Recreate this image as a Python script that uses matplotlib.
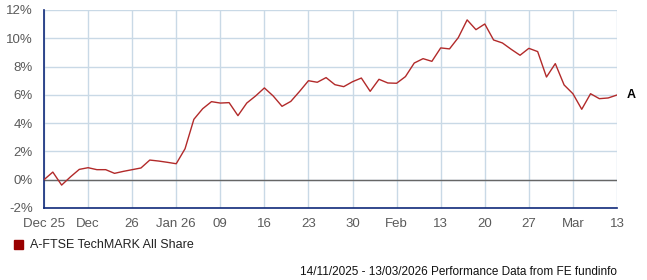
import numpy as np
import matplotlib
matplotlib.use("Agg")
import matplotlib.pyplot as plt
from matplotlib.patches import Rectangle

plt.rcParams['font.family'] = ['Liberation Sans', 'DejaVu Sans']

# daily performance (%), one point per trading day
perf = [0.00, 0.54, -0.38, 0.20, 0.73, 0.85, 0.71, 0.71, 0.45, 0.59,
        0.71, 0.83, 1.39, 1.32, 1.23, 1.13, 2.19, 4.27, 5.02, 5.52,
        5.42, 5.45, 4.53, 5.42, 5.92, 6.49, 5.92, 5.19, 5.54, 6.25,
        7.00, 6.89, 7.22, 6.72, 6.58, 6.93, 7.19, 6.25, 7.10, 6.84,
        6.82, 7.29, 8.25, 8.56, 8.37, 9.32, 9.25, 10.05, 11.30, 10.61,
        11.01, 9.88, 9.67, 9.22, 8.80, 9.29, 9.06, 7.26, 8.21, 6.70,
        6.08, 4.98, 6.08, 5.73, 5.78, 5.99]
xlabels = ["Dec 25", "Dec", "26", "Jan 26", "09", "16", "23", "30",
           "Feb", "13", "20", "27", "Mar", "13"]
yticks = [-2, 0, 2, 4, 6, 8, 10, 12]
series_name = "A-FTSE TechMARK All Share"
footer = "14/11/2025 - 13/03/2026 Performance Data from FE fundinfo"

fig = plt.figure(figsize=(6.47, 2.8), dpi=100)
ax = fig.add_axes([44/647, 72/280, 573/647, 198/280])

x = np.arange(len(perf))
ax.plot(x, perf, color='#b22a2a', lw=1.0, zorder=3)
ax.axhline(0, color='#666666', lw=1.0, zorder=2)

ax.set_xlim(0, len(perf) - 1)
ax.set_ylim(-2, 12)
ax.set_xticks(np.arange(0, len(perf), 5))
ax.set_xticklabels(xlabels)
ax.set_yticks(yticks)
ax.set_yticklabels([f"{v}%" for v in yticks])
ax.grid(True, color='#c9d9e6', lw=1.0, zorder=0)
ax.tick_params(length=0, labelsize=9.5, labelcolor='#5a5a5a')
ax.tick_params(axis='y', pad=8)
ax.tick_params(axis='x', pad=7)
for s in ['top', 'right']:
    ax.spines[s].set_visible(False)
for s in ['left', 'bottom']:
    ax.spines[s].set_color('#102a7a')
    ax.spines[s].set_linewidth(1.2)

# end-of-line series marker
ax.annotate("A", xy=(x[-1], perf[-1]), xytext=(10, 0),
            textcoords='offset points', va='center', ha='center',
            fontsize=9, fontweight='bold', annotation_clip=False)

fig.patches.append(Rectangle((14/647, (280-249)/280), 9/647, 9/280,
                             transform=fig.transFigure, color='#990000'))
fig.text(30/647, (280-245)/280, series_name, fontsize=9, va='center', color='#222222')
fig.text(617/647, (280-272)/280, footer, fontsize=8.5, ha='right', va='center',
         color='#111111')

fig.savefig("out.png", dpi=100)
